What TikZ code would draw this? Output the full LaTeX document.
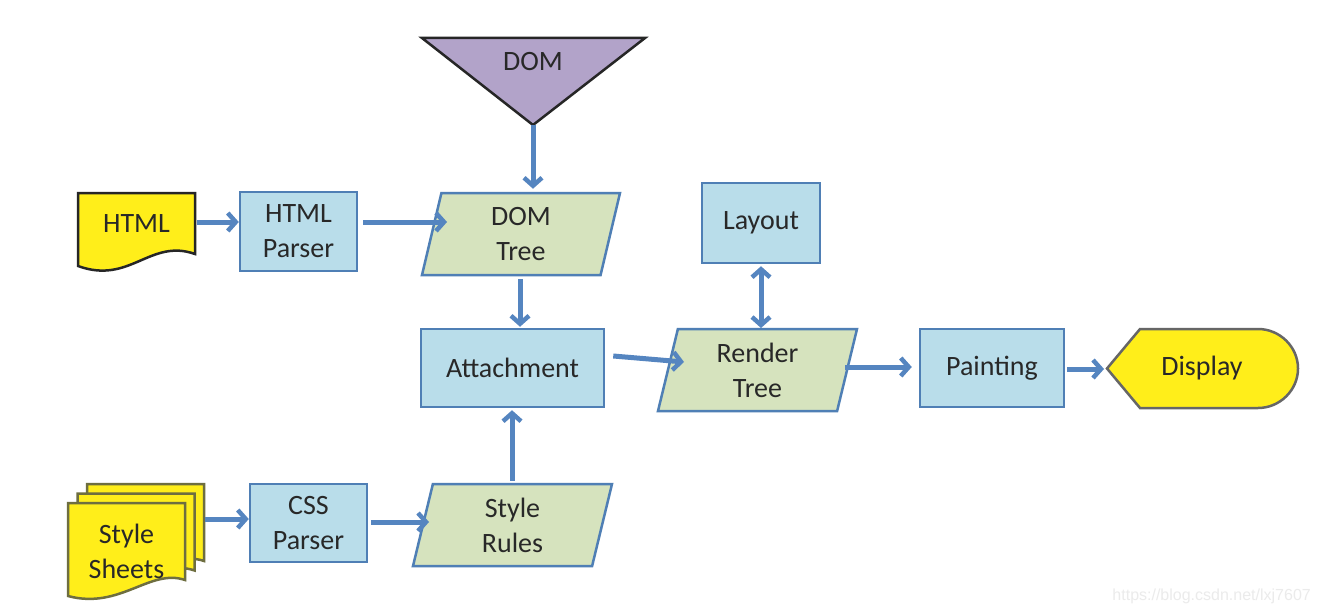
\documentclass[tikz,border=0pt]{standalone}
\usepackage{fontspec}
\setmainfont{Carlito}
\newfontfamily\wmfont{Liberation Sans}
\usetikzlibrary{arrows.meta,shapes.geometric}
\definecolor{boxblue}{HTML}{B9DDEA}
\definecolor{edgeblue}{HTML}{4F7FB5}
\definecolor{arrowblue}{HTML}{5585C0}
\definecolor{boxgreen}{HTML}{D6E3BE}
\definecolor{docyellow}{HTML}{FFEE1A}
\definecolor{docedge}{HTML}{6E6E40}
\definecolor{dompurple}{HTML}{B2A3C9}
\definecolor{txt}{HTML}{282828}
\begin{document}
\begin{tikzpicture}[x=1pt,y=-1pt,
  lbl/.style={text=txt, font=\fontsize{28}{35}\selectfont, align=center, inner sep=0pt},
  procbox/.style={lbl, draw=edgeblue, fill=boxblue, line width=2.5pt},
  databox/.style={lbl, draw=edgeblue, fill=boxgreen, line width=2.5pt, trapezium, trapezium left angle=70, trapezium right angle=110, trapezium stretches body},
  docshape/.style={draw=docedge, fill=docyellow, line width=2.5pt},
  flow/.style={draw=arrowblue, line width=5pt, -{Straight Barb[length=8pt,width=18pt,line width=4.5pt]}},
  flowboth/.style={draw=arrowblue, line width=5pt, {Straight Barb[length=8pt,width=18pt,line width=4.5pt]}-{Straight Barb[length=8pt,width=18pt,line width=4.5pt]}}
]
\useasboundingbox[fill=white] (0,0) rectangle (1320,615);

% DOM triangle
\draw[fill=dompurple, draw=black!85, line width=2.5pt, line join=miter] (422,38) -- (645,38) -- (533,125) -- cycle;
\coordinate (domtip) at (533,125);
\node[lbl] (dom) at (533,62) {DOM};

% HTML document
\draw[docshape, draw=black!85] (78,193) -- (195,193) -- (195,254) .. controls (150,238) and (130,285) .. (78,266) -- cycle;
\node[lbl, minimum width=117pt, minimum height=62pt] (html) at (136.5,224) {HTML};

% Style sheets stack
\draw[docshape] (87,484) -- (204,484) -- (204,561) .. controls (170,549) and (139,591) .. (87,577) -- cycle;
\draw[docshape] (77.5,493.5) -- (194.5,493.5) -- (194.5,570.5) .. controls (160,558) and (129,600) .. (77.5,586.5) -- cycle;
\draw[docshape] (68,503) -- (185,503) -- (185,580) .. controls (150,568) and (120,610) .. (68,596) -- cycle;
\node[lbl, minimum width=117pt, minimum height=77pt] (sheets) at (126.5,551) {Style\\Sheets};

% process boxes
\node[procbox, minimum width=117pt, minimum height=79pt] (hparser) at (298.5,231.5) {HTML\\Parser};
\node[procbox, minimum width=117pt, minimum height=78pt] (cssparser) at (308.5,523) {CSS\\Parser};
\node[procbox, minimum width=183pt, minimum height=78pt] (attach) at (512.5,368) {Attachment};
\node[procbox, minimum width=118pt, minimum height=80pt] (layout) at (761,223) {Layout};
\node[procbox, minimum width=144pt, minimum height=78pt] (paint) at (992,368) {Painting};

% data parallelograms
\node[databox, minimum width=198pt, minimum height=82pt] (domtree) at (521,234) {DOM\\Tree};
\node[databox, minimum width=199pt, minimum height=82pt] (render) at (757.5,370) {Render\\Tree};
\node[databox, minimum width=199pt, minimum height=82pt] (rules) at (512.5,525) {Style\\Rules};

% Display
\draw[fill=docyellow, draw=black!60, line width=2.5pt] (1107,368.5) -- (1140,329) -- (1258,329)
  .. controls (1280,329) and (1298,347) .. (1298,368.5)
  .. controls (1298,390) and (1280,408) .. (1258,408) -- (1140,408) -- cycle;
\node[lbl, minimum width=150pt, minimum height=79pt] (display) at (1202,368.5) {Display};

% connectors
\draw[flow] ([xshift=2pt]html.east |- 0,222) -- (hparser.west |- 0,222);
\draw[flow] ([xshift=5pt]hparser.east |- 0,222) -- (447,222);
\draw[flow] (domtip) -- ([yshift=3pt]domtip |- domtree.north);
\draw[flow] ([yshift=-3pt]domtree.south -| 520,0) -- ([yshift=1pt]attach.north -| 520,0);
\draw[flow] ([yshift=2pt]rules.north -| 512,0) -- ([yshift=-2pt]attach.south -| 512,0);
\draw[flow] ([xshift=3pt]cssparser.east |- 0,522) -- (429,522);
\draw[flow] (205,519) -- (cssparser.west |- 0,519);
\draw[flow] ([xshift=8pt]attach.east |- 0,356) -- (684,362);
\draw[flowboth] ([yshift=-2pt]layout.south) -- (761,328);
\draw[flow] (845,367) -- ([xshift=-7pt]paint.west |- 0,367);
\draw[flow] ([xshift=2pt]paint.east |- 0,369) -- (1104,369);

% watermark
\node[text=black!8, font=\wmfont\fontsize{16}{18}\selectfont, anchor=east, inner sep=0pt] (wm) at (1311,596) {https://blog.csdn.net/lxj7607};
\end{tikzpicture}
\end{document}
